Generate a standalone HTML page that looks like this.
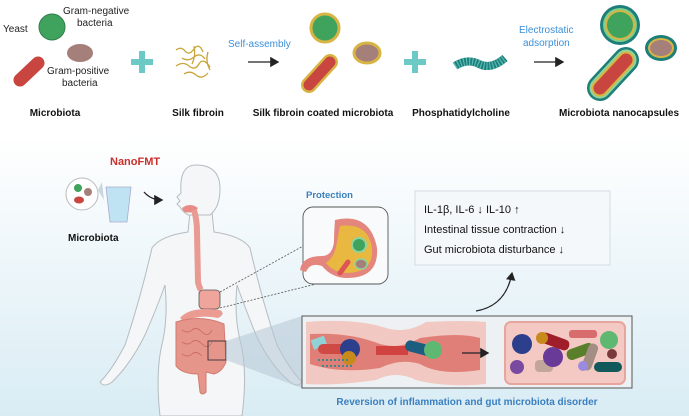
<!DOCTYPE html>
<html><head><meta charset="utf-8"><style>
html,body{margin:0;padding:0;background:#fff}
svg{display:block}
text{font-family:"Liberation Sans",Arial,sans-serif}
</style></head><body>
<svg width="689" height="416" viewBox="0 0 689 416" xmlns="http://www.w3.org/2000/svg">
<defs>
<linearGradient id="bg" x1="0" y1="0" x2="0" y2="1">
<stop offset="0" stop-color="#ffffff"/><stop offset="1" stop-color="#d9ecf4"/>
</linearGradient>
<marker id="ah" markerWidth="8" markerHeight="8" refX="6" refY="4" orient="auto"><path d="M0,0 L7,4 L0,8 z" fill="#222"/></marker>
</defs>
<rect x="0" y="135" width="689" height="281" fill="url(#bg)"/>

<!-- TOP ROW -->
<text x="3" y="32" font-size="10" fill="#222">Yeast</text>
<circle cx="52" cy="27" r="13" fill="#3fa35e" stroke="#2f7d48" stroke-width="1"/>
<text x="63" y="14" font-size="10" fill="#222">Gram-negative</text>
<text x="77" y="26" font-size="10" fill="#222">bacteria</text>
<ellipse cx="80" cy="53" rx="13" ry="9" fill="#a5807a"/>
<line x1="20" y1="80" x2="38" y2="63" stroke="#c9453f" stroke-width="13" stroke-linecap="round"/>
<text x="47" y="74" font-size="10" fill="#222">Gram-positive</text>
<text x="62" y="86" font-size="10" fill="#222">bacteria</text>
<path d="M142,51 v22 M131,62 h22" stroke="#6cc9c6" stroke-width="6"/>
<path d="M176,50 q5,-4 9,1 t9,-2 t9,3 M182,58 q6,4 12,-1 t11,2 M176,66 q7,-5 13,0 t10,-2 t11,3 M184,74 q6,-4 12,1 t12,-2 M194,46 q2,10 -2,18 M208,52 q-3,9 2,18" stroke="#c9a43a" stroke-width="1.3" fill="none"/>
<text x="228" y="47" font-size="10" fill="#3b8fd9">Self-assembly</text>
<line x1="248" y1="62" x2="278" y2="62" stroke="#222" stroke-width="1.3" marker-end="url(#ah)"/>
<circle cx="325" cy="28" r="14" fill="#3fa35e" stroke="#d8b443" stroke-width="3"/>
<line x1="309" y1="85" x2="330" y2="62" stroke="#d8b443" stroke-width="16" stroke-linecap="round"/>
<line x1="309" y1="85" x2="330" y2="62" stroke="#c9453f" stroke-width="11" stroke-linecap="round"/>
<ellipse cx="367" cy="53" rx="13" ry="10" fill="#a5807a" stroke="#d8b443" stroke-width="3"/>
<path d="M415,51 v22 M404,62 h22" stroke="#6cc9c6" stroke-width="6"/>
<path d="M455,66 q12,-8 24,-2 t26,-6" stroke="#1e7e7a" stroke-width="8" fill="none"/>
<path d="M455,66 q12,-8 24,-2 t26,-6" stroke="#5bbcb6" stroke-width="8" fill="none" stroke-dasharray="1.2 1.8"/>
<text x="519" y="33" font-size="10" fill="#3b8fd9">Electrostatic</text>
<text x="523" y="46" font-size="10" fill="#3b8fd9">adsorption</text>
<line x1="534" y1="62" x2="563" y2="62" stroke="#222" stroke-width="1.3" marker-end="url(#ah)"/>
<circle cx="620" cy="25" r="20" fill="#1e7e7a"/><circle cx="620" cy="25" r="17" fill="#7fcf8a"/><circle cx="620" cy="25" r="15" fill="#d8b443"/><circle cx="620" cy="25" r="13" fill="#3fa35e"/>
<ellipse cx="661" cy="48" rx="16" ry="13" fill="#1e7e7a"/><ellipse cx="661" cy="48" rx="13" ry="10" fill="#d8b443"/><ellipse cx="661" cy="48" rx="11" ry="8" fill="#a5807a"/>
<g stroke-linecap="round">
<line x1="600" y1="88" x2="626" y2="60" stroke="#1e7e7a" stroke-width="26"/>
<line x1="600" y1="88" x2="626" y2="60" stroke="#8fd49a" stroke-width="21"/>
<line x1="600" y1="88" x2="626" y2="60" stroke="#d8b443" stroke-width="17"/>
<line x1="600" y1="88" x2="626" y2="60" stroke="#c9453f" stroke-width="13"/>
</g>
<g font-size="10" font-weight="bold" fill="#111" text-anchor="middle">
<text x="55" y="116">Microbiota</text>
<text x="198" y="116">Silk fibroin</text>
<text x="323" y="116">Silk fibroin coated microbiota</text>
<text x="461" y="116">Phosphatidylcholine</text>
<text x="619" y="116">Microbiota nanocapsules</text>
</g>

<!-- BOTTOM LEFT -->
<text x="110" y="165" font-size="11" font-weight="bold" fill="#c9302c">NanoFMT</text>
<circle cx="82" cy="194" r="16" fill="#fff" stroke="#bbb"/>
<circle cx="78" cy="188" r="4" fill="#3fa35e"/><circle cx="88" cy="192" r="4" fill="#a5807a"/><ellipse cx="79" cy="200" rx="5" ry="3.5" fill="#c9453f"/>
<path d="M98,190 L102,182 L104,200 z" fill="#c8d6de"/>
<path d="M106,187 L131,187 L127,222 L110,222 z" fill="#bfe3f2" stroke="#aac" stroke-width="0.8"/>
<text x="68" y="241" font-size="10" font-weight="bold" fill="#111">Microbiota</text>
<path d="M144,192 q7,8 18,8" stroke="#222" stroke-width="1.3" fill="none" marker-end="url(#ah)"/>
<!-- body -->
<path d="M190,212 L188,232 Q160,236 152,248 Q140,300 125,345 Q112,370 100,382 Q104,388 112,382 Q130,365 145,335 Q158,305 165,285 Q168,315 163,340 Q155,370 160,416 L242,416 Q248,370 240,340 Q234,315 237,285 Q244,305 256,335 Q270,365 290,382 Q298,388 302,382 Q290,370 277,345 Q262,300 250,248 Q242,236 214,232 L212,212 Z" fill="#f4f6f7" stroke="#b5bcc0" stroke-width="1"/>
<path d="M196,165 q24,0 24,24 q0,18 -10,26 l-22,0 q-6,-4 -8,-8 l-3,-3 l3,-3 l-3,-4 l4,-4 q-2,-28 15,-28 z" fill="#f4f6f7" stroke="#b5bcc0" stroke-width="1"/>
<path d="M182,208 q8,-6 16,0 q-4,6 -14,4 z" fill="#e88a86"/>
<path d="M194,210 q3,10 3,22 l1,50 q1,5 3,8" stroke="#e99a92" stroke-width="6" fill="none"/>
<rect x="199" y="290" width="21" height="19" rx="4" fill="#f0a59c" stroke="#555" stroke-width="0.8"/>
<path d="M180,318 q10,-12 40,-8 q6,4 -2,8 q-20,-4 -34,4" fill="#eb9b91"/>
<path d="M176,322 q25,-8 48,2 l2,38 q-4,10 -12,12 l-8,-2 l0,20 q-4,4 -6,0 l-2,-18 q-16,0 -22,-8 z" fill="#e6958b" stroke="#d27a70" stroke-width="1"/>
<path d="M182,330 q6,4 10,0 t10,2 t10,-2 M182,342 q6,4 10,0 t10,2 t10,-2 M182,354 q6,4 10,0 t10,2" stroke="#c8685f" stroke-width="0.8" fill="none"/>
<rect x="208" y="341" width="18" height="19" fill="none" stroke="#333" stroke-width="0.9"/>
<path d="M226,341 L302,316 L302,388 L226,360 z" fill="#b7c7d5" opacity="0.55"/>
<path d="M220,292 L305,245 M220,308 L320,283" stroke="#555" stroke-width="0.8" stroke-dasharray="2 1.5"/>

<!-- Protection -->
<text x="306" y="198" font-size="9.5" font-weight="bold" fill="#3b7fbf">Protection</text>
<rect x="303" y="207" width="85" height="77" rx="10" fill="#f9fafb" stroke="#555" stroke-width="0.9"/>
<path d="M335,220 q35,-8 42,28 q2,30 -30,30 q-15,0 -25,-12 q-12,-4 -16,6 l-6,-2 q2,-14 22,-14 q10,0 12,-14 q0,-10 1,-22 z" fill="#e4867d"/>
<path d="M340,226 q28,-4 32,22 q2,24 -24,25 q-14,0 -22,-10 q8,-6 10,-16 z" fill="#e8b840"/>
<circle cx="359" cy="245" r="7" fill="#3fa35e" stroke="#8fd49a" stroke-width="2"/>
<ellipse cx="361" cy="264" rx="6" ry="5" fill="#a5807a" stroke="#8fd49a" stroke-width="1.5"/>
<line x1="340" y1="273" x2="348" y2="262" stroke="#d55" stroke-width="5" stroke-linecap="round"/>

<!-- Text box -->
<rect x="415" y="191" width="195" height="74" fill="#f5f8fa" stroke="#d5dde2" stroke-width="1"/>
<g font-size="11" fill="#111">
<text x="424" y="213">IL-1β, IL-6 ↓  IL-10 ↑</text>
<text x="424" y="233">Intestinal tissue contraction  ↓</text>
<text x="424" y="253">Gut microbiota disturbance   ↓</text>
</g>
<path d="M476,311 q30,-5 36,-38" stroke="#222" stroke-width="1.2" fill="none" marker-end="url(#ah)"/>

<!-- intestine box -->
<rect x="302" y="316" width="330" height="72" fill="#eef1f3" stroke="#555" stroke-width="1"/>
<path d="M306,322 q50,-4 80,6 q20,6 40,-6 q40,-2 60,0 l0,62 q-40,4 -70,-4 q-20,-10 -40,0 q-40,6 -70,4 z" fill="#f1c9c2"/>
<path d="M310,334 q40,-2 70,10 q20,6 40,-6 q40,-6 60,0 l0,32 q-40,6 -60,-6 q-20,-6 -40,4 q-40,6 -70,-4 z" fill="#e07f77"/>
<rect x="312" y="338" width="14" height="10" fill="#8fd3d6" transform="rotate(-20 318 343)"/>
<rect x="318" y="344" width="38" height="10" rx="5" fill="#d04a45"/>
<circle cx="350" cy="349" r="10" fill="#2b3f8c"/>
<circle cx="349" cy="358" r="7" fill="#c98a1c"/>
<rect x="376" y="346" width="32" height="9" fill="#c92a2a" opacity="0.7"/>
<rect x="405" y="343" width="34" height="11" rx="5" fill="#1c5d80" transform="rotate(15 420 348)"/>
<circle cx="433" cy="350" r="9" fill="#5fb872"/>
<path d="M318,360 h30 M322,366 h30" stroke="#3a8a88" stroke-width="2" stroke-dasharray="2 2"/>
<line x1="462" y1="353" x2="488" y2="353" stroke="#222" stroke-width="1.3" marker-end="url(#ah)"/>
<rect x="505" y="322" width="120" height="62" rx="6" fill="#f4c9c3" stroke="#e6a59d" stroke-width="2"/>
<circle cx="522" cy="344" r="10" fill="#2b3f8c"/>
<circle cx="517" cy="367" r="7" fill="#7a4aa0"/>
<rect x="535" y="360" width="18" height="12" rx="4" fill="#c2a69c"/>
<circle cx="553" cy="357" r="10" fill="#6a3a98"/>
<rect x="540" y="336" width="30" height="11" rx="5" fill="#a01e2a" transform="rotate(20 555 341)"/>
<circle cx="542" cy="338" r="6" fill="#c98a1c"/>
<rect x="566" y="346" width="28" height="11" rx="5" fill="#5a7f2a" transform="rotate(-20 580 351)"/>
<rect x="569" y="330" width="28" height="8" rx="3" fill="#d86b6b"/>
<circle cx="609" cy="340" r="9" fill="#5fb872"/>
<rect x="585" y="343" width="10" height="28" rx="5" fill="#a38e86" transform="rotate(20 590 357)"/>
<rect x="594" y="362" width="28" height="10" rx="5" fill="#11595a"/>
<circle cx="612" cy="354" r="5" fill="#7a3a3a"/>
<circle cx="583" cy="366" r="5" fill="#9a8ae0"/>
<text x="467" y="405" font-size="10" font-weight="bold" fill="#3b7fbf" text-anchor="middle">Reversion of inflammation and gut microbiota disorder</text>
</svg>
</body></html>
